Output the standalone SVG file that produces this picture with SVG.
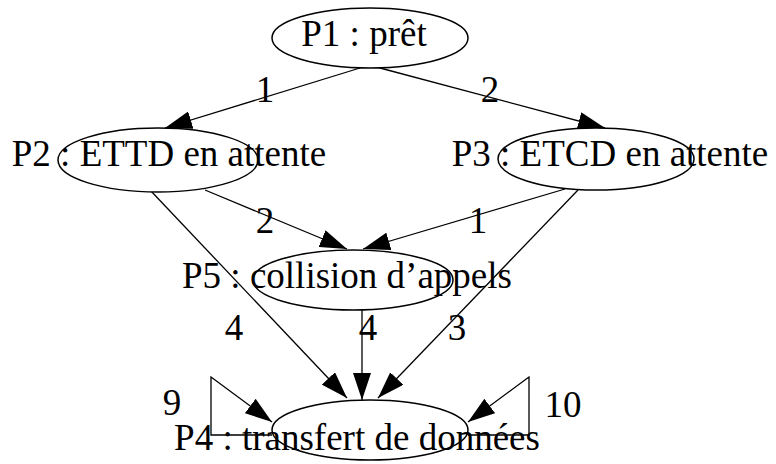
<svg xmlns="http://www.w3.org/2000/svg" width="776" height="464" viewBox="0 0 776 464">
<defs>
<marker id="ah" markerWidth="27" markerHeight="18" refX="27" refY="9" orient="auto" markerUnits="userSpaceOnUse">
<path d="M0,0 L27,9 L0,18 Z" fill="#000"/>
</marker>
<style>
.n{fill:#fff;stroke:#000;stroke-width:1.5}
.t{font-family:"Liberation Serif","Times New Roman",serif;font-size:37px;fill:#000;text-anchor:middle}
.e{fill:none;stroke:#000;stroke-width:1.3}
</style>
</defs>
<rect width="776" height="464" fill="#fff"/>
<g id="edges">
<line class="e" x1="360" y1="68" x2="165" y2="128" marker-end="url(#ah)"/>
<line class="e" x1="380" y1="68" x2="605" y2="128" marker-end="url(#ah)"/>
<line class="e" x1="205" y1="190" x2="347" y2="249" marker-end="url(#ah)"/>
<line class="e" x1="565" y1="189" x2="363" y2="249" marker-end="url(#ah)"/>
<line class="e" x1="150" y1="190" x2="347" y2="398" marker-end="url(#ah)"/>
<line class="e" x1="362" y1="310" x2="362" y2="400" marker-end="url(#ah)"/>
<line class="e" x1="578" y1="190" x2="378" y2="398" marker-end="url(#ah)"/>
<polyline class="e" points="272,435 211,435 211,377 272,422" marker-end="url(#ah)"/>
<polyline class="e" points="468,435 529,435 529,377 468,422" marker-end="url(#ah)"/>
<text class="t" x="265" y="102">1</text>
<text class="t" x="490" y="102">2</text>
<text class="t" x="265" y="233">2</text>
<text class="t" x="478" y="233">1</text>
<text class="t" x="234" y="340">4</text>
<text class="t" x="368" y="340">4</text>
<text class="t" x="457" y="340">3</text>
<text class="t" x="172" y="415">9</text>
<text class="t" x="563" y="417">10</text>
</g>
<g id="P1">
<ellipse class="n" cx="370" cy="38" rx="98" ry="30"/>
<text class="t" x="364" y="46">P1 : prêt</text>
</g>
<g id="P2">
<ellipse class="n" cx="158" cy="160" rx="100" ry="32"/>
<text class="t" x="169" y="166">P2 : ETTD en attente</text>
</g>
<g id="P3">
<ellipse class="n" cx="596" cy="159" rx="98" ry="31"/>
<text class="t" x="610" y="166">P3 : ETCD en attente</text>
</g>
<g id="P5">
<ellipse class="n" cx="353" cy="280" rx="100" ry="30"/>
<text class="t" x="347" y="288">P5 : collision d’appels</text>
</g>
<g id="P4">
<ellipse class="n" cx="370" cy="430" rx="98" ry="30"/>
<text class="t" x="357" y="450">P4 : transfert de données</text>
</g>
</svg>
